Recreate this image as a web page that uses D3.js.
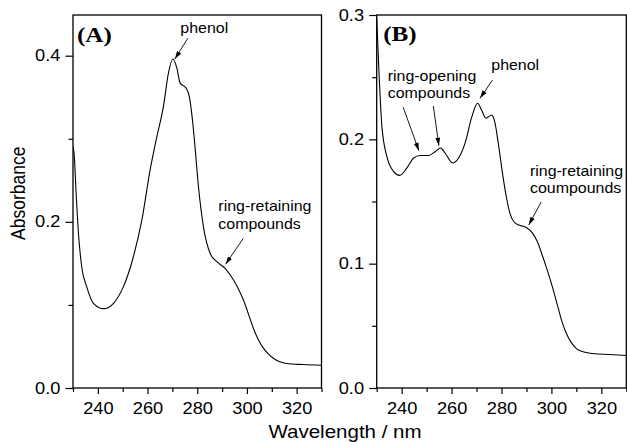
<!DOCTYPE html>
<html>
<head>
<meta charset="utf-8">
<script src="https://cdn.jsdelivr.net/npm/d3@7"></script>
<style>
  html, body { margin: 0; padding: 0; background: #fff; }
  svg { display: block; }
</style>
</head>
<body>
<svg id="chart" width="627" height="442"></svg>
<script>
// ---------------- data ----------------
const wavelengthA = [230, 230.5, 231.2, 232.2, 233.5, 235.5, 238.2, 242.4, 246.3, 250.3, 254.3, 257.7, 261, 263.7, 266.4, 268.4, 270.2, 271.8, 273.1, 275.5, 276.8, 278.2, 279.1, 280.5, 282.5, 285.2, 287.9, 291.2, 294.6, 296.6, 298.6, 300.6, 302.6, 304.6, 306.6, 308.6, 310.6, 313, 316, 322.7, 330];
const absorbanceA = [0.290, 0.280, 0.238, 0.186, 0.146, 0.122, 0.102, 0.0955, 0.102, 0.122, 0.158, 0.202, 0.262, 0.302, 0.339, 0.379, 0.396, 0.385, 0.367, 0.361, 0.351, 0.319, 0.290, 0.242, 0.194, 0.162, 0.152, 0.144, 0.130, 0.119, 0.106, 0.089, 0.072, 0.058, 0.048, 0.041, 0.0358, 0.0318, 0.0294, 0.0282, 0.0273];

const wavelengthB = [230, 231, 232.1, 234.1, 236.8, 239.2, 242.1, 244.8, 247.4, 250.8, 253.4, 255.6, 257.4, 260.4, 262.8, 265.4, 268.1, 270.4, 272, 273.8, 276, 277.3, 278.7, 280.6, 282, 283.3, 285, 287, 289.3, 292.3, 294.3, 296.3, 298.3, 300.3, 302.6, 304.3, 306, 308, 310, 313, 316.6, 323.3, 330];
const absorbanceB = [0.298, 0.250, 0.210, 0.186, 0.174, 0.171, 0.177, 0.185, 0.187, 0.187, 0.190, 0.193, 0.189, 0.181, 0.185, 0.197, 0.218, 0.229, 0.2236, 0.217, 0.2196, 0.214, 0.197, 0.170, 0.153, 0.141, 0.1335, 0.131, 0.1297, 0.125, 0.118, 0.107, 0.095, 0.082, 0.0652, 0.053, 0.0438, 0.0365, 0.0317, 0.029, 0.0277, 0.0269, 0.0262];

const xMajorTicks = [240, 260, 280, 300, 320];
const xMinorTicks = [230, 250, 270, 290, 310, 330];
const yMajorTicksA = [0.0, 0.2, 0.4];
const yMinorTicksA = [0.1, 0.3];
const yMajorTicksB = [0.0, 0.1, 0.2, 0.3];
const yMinorTicksB = [0.05, 0.15, 0.25];

const panelLabels = ["(A)", "(B)"];
const xTitle = "Wavelength / nm";
const yTitle = "Absorbance";

// annotations (anchor in data units)
const labelsA = [
  { lines: ["phenol"], wl: 273.2, v: 0.427 },
  { lines: ["ring-retaining", "compounds"], wl: 288.5, v: 0.2125 }
];
const arrowsA = [
  { from: [276.2, 0.421], to: [271.0, 0.396] },
  { from: [298.5, 0.180], to: [291.4, 0.149] }
];
const labelsB = [
  { lines: ["ring-opening", "compounds"], wl: 234.4, v: 0.2473 },
  { lines: ["phenol"], wl: 275.9, v: 0.2558 },
  { lines: ["ring-retaining", "coumpounds"], wl: 291.4, v: 0.1709 }
];
const arrowsB = [
  { from: [240.6, 0.2258], to: [246.9, 0.1909] },
  { from: [252.7, 0.2268], to: [254.9, 0.1949] },
  { from: [276.4, 0.2477], to: [271.4, 0.233] },
  { from: [295.9, 0.1496], to: [290.9, 0.1311] }
];

// ---------------- drawing ----------------
const SX = 1.14; // horizontal glyph stretch of the reference
const sans = "'Liberation Sans', Arial, Helvetica, sans-serif";
const serif = "'Liberation Serif', 'Times New Roman', serif";
const svg = d3.select("#chart");
svg.append("rect").attr("width", 627).attr("height", 442).attr("fill", "#fff");

const defs = svg.append("defs");
defs.append("marker")
  .attr("id", "arr")
  .attr("viewBox", "0 0 8 6")
  .attr("refX", 8).attr("refY", 3)
  .attr("markerWidth", 8).attr("markerHeight", 6)
  .attr("markerUnits", "userSpaceOnUse")
  .attr("orient", "auto")
  .append("path").attr("d", "M0,0.6 L8,3 L0,5.4 Z").attr("fill", "#000");

function stretchedText(g, x, y, str, size, family, weight, anchor) {
  return g.append("text")
    .attr("transform", `translate(${x},${y}) scale(${SX},1)`)
    .attr("font-family", family)
    .attr("font-size", size)
    .attr("font-weight", weight || "normal")
    .attr("text-anchor", anchor || "start")
    .attr("fill", "#000")
    .text(str);
}

function panel(opts) {
  const { left, right, top, bottom, yDomain, yMaj, yMin, wl, ab, label, labels, arrows, id } = opts;
  const x = d3.scaleLinear().domain([230, 330]).range([left, right]);
  const y = d3.scaleLinear().domain(yDomain).range([bottom, top]);
  const g = svg.append("g");

  // minor ticks
  g.append("g").attr("transform", `translate(0,${bottom})`)
    .call(d3.axisBottom(x).tickValues(xMinorTicks).tickSize(4).tickFormat(""))
    .call(s => s.select(".domain").remove());
  g.append("g").attr("transform", `translate(${left},0)`)
    .call(d3.axisLeft(y).tickValues(yMin).tickSize(4.5).tickFormat(""))
    .call(s => s.select(".domain").remove());

  // major ticks
  const xa = g.append("g").attr("transform", `translate(0,${bottom})`)
    .call(d3.axisBottom(x).tickValues(xMajorTicks).tickSize(6).tickPadding(8.4).tickFormat(d3.format("d")))
    .call(s => s.select(".domain").remove());
  const ya = g.append("g").attr("transform", `translate(${left},0)`)
    .call(d3.axisLeft(y).tickValues(yMaj).tickSize(7.5).tickPadding(3.6).tickFormat(d3.format(".1f")))
    .call(s => s.select(".domain").remove());
  [xa, ya].forEach(a => {
    a.selectAll("text")
      .attr("font-family", sans).attr("font-size", 16).attr("fill", "#000")
      .attr("transform", `scale(${SX},1)`);
  });
  g.selectAll(".tick line").attr("stroke", "#000").attr("stroke-width", 1.2);

  // clip
  defs.append("clipPath").attr("id", "clip" + id)
    .append("rect").attr("x", left).attr("y", top).attr("width", right - left).attr("height", bottom - top);

  const line = d3.line().x(d => x(d[0])).y(d => y(d[1])).curve(d3.curveMonotoneX);
  g.append("path")
    .attr("d", line(wl.map((w, i) => [w, ab[i]])))
    .attr("fill", "none").attr("stroke", "#000").attr("stroke-width", 1.1)
    .attr("clip-path", `url(#clip${id})`);

  // frame
  g.append("rect").attr("x", left).attr("y", top).attr("width", right - left).attr("height", bottom - top)
    .attr("fill", "none").attr("stroke", "#000").attr("stroke-width", 1.3);

  // panel label
  stretchedText(g, x(label.wl), y(label.v), label.text, 22, serif, "bold");

  // annotations
  labels.forEach(l => {
    l.lines.forEach((t, i) => {
      stretchedText(g, x(l.wl), y(l.v) + i * 17.3, t, 14, sans);
    });
  });
  arrows.forEach(a => {
    g.append("line")
      .attr("x1", x(a.from[0])).attr("y1", y(a.from[1]))
      .attr("x2", x(a.to[0])).attr("y2", y(a.to[1]))
      .attr("stroke", "#000").attr("stroke-width", 0.9)
      .attr("marker-end", "url(#arr)");
  });
}

panel({ id: "A", left: 73, right: 321.5, top: 15, bottom: 388, yDomain: [0, 0.449],
  yMaj: yMajorTicksA, yMin: yMinorTicksA, wl: wavelengthA, ab: absorbanceA,
  label: { text: panelLabels[0], wl: 231.6, v: 0.417 }, labels: labelsA, arrows: arrowsA });
panel({ id: "B", left: 376.7, right: 626.3, top: 15, bottom: 388, yDomain: [0, 0.3],
  yMaj: yMajorTicksB, yMin: yMinorTicksB, wl: wavelengthB, ab: absorbanceB,
  label: { text: panelLabels[1], wl: 232.6, v: 0.2787 }, labels: labelsB, arrows: arrowsB });

// axis titles
stretchedText(svg, 345, 438, xTitle, 18, sans, "normal", "middle");
svg.append("text")
  .attr("transform", `translate(25,193.3) scale(${SX},1) rotate(-90)`)
  .attr("font-family", sans).attr("font-size", 17.5)
  .attr("text-anchor", "middle").attr("fill", "#000")
  .text(yTitle);
</script>
</body>
</html>
